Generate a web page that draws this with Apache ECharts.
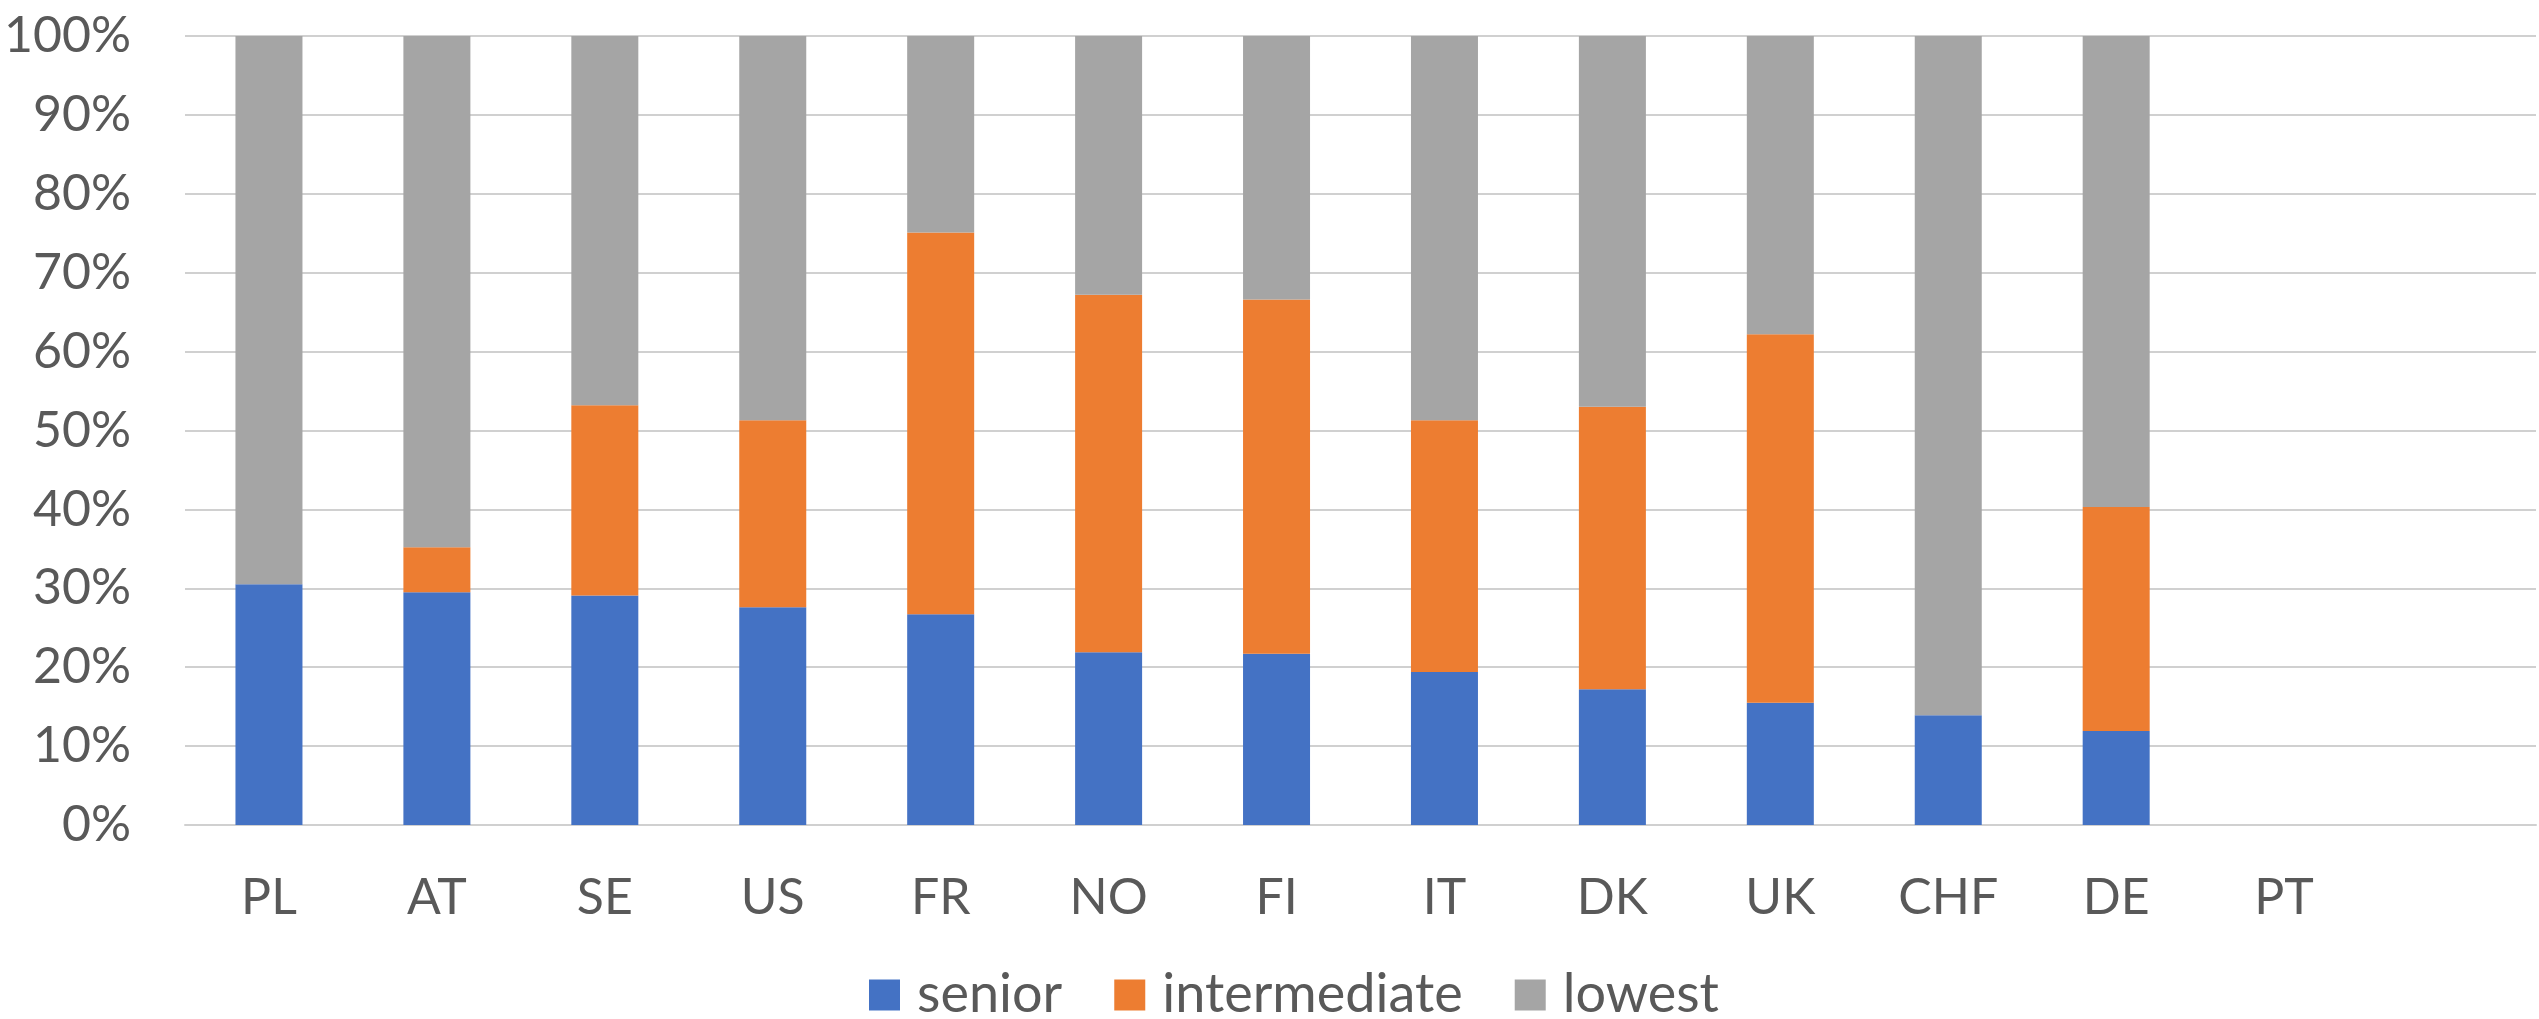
<!DOCTYPE html>
<html>
<head>
<meta charset="utf-8">
<script src="https://cdn.jsdelivr.net/npm/echarts@6/dist/echarts.min.js"></script>
<style>
html,body{margin:0;padding:0;background:#fff;}
#chart{width:2539px;height:1019px;}
</style>
</head>
<body>
<div id="chart"></div>
<script>
const categories = ['PL','AT','SE','US','FR','NO','FI','IT','DK','UK','CHF','DE','PT',''];
const senior       = [30.5, 29.5, 29.1, 27.6, 26.7, 21.9, 21.7, 19.4, 17.2, 15.5, 13.9, 11.9, null, null];
const intermediate = [0.0, 5.7, 24.1, 23.7, 48.4, 45.3, 44.9, 31.9, 35.8, 46.7, 0.0, 28.4, null, null];
const lowest       = [69.5, 64.8, 46.8, 48.7, 24.9, 32.8, 33.4, 48.7, 47.0, 37.8, 86.1, 59.7, null, null];
const seriesNames = ['senior','intermediate','lowest'];
const colors = ['#4472C4','#ED7D31','#A5A5A5'];

const FONT = 'Lato';
const chart = echarts.init(document.getElementById('chart'));
const mk = (name, data, color) => ({
  name, type: 'bar', stack: 'total', data, barWidth: 67,
  itemStyle: { color }, emphasis: { disabled: true }
});
chart.setOption({
  animation: false,
  textStyle: { fontFamily: FONT },
  color: colors,
  grid: { left: 185, right: 3, top: 36, bottom: 194, containLabel: false },
  legend: {
    data: seriesNames,
    left: 869, top: 968, padding: 0,
    itemWidth: 31, itemHeight: 31, itemGap: 52,
    icon: 'rect',
    textStyle: { fontFamily: FONT, fontSize: 54, lineHeight: 54, color: '#595959', padding: [0, 0, 0, 12] }
  },
  xAxis: {
    type: 'category', data: categories,
    axisLine: { lineStyle: { color: '#d0d0d0', width: 2 } },
    axisTick: { show: false },
    axisLabel: { fontFamily: FONT, fontSize: 50, color: '#595959', margin: 48, interval: 0 }
  },
  yAxis: {
    type: 'value', min: 0, max: 100, interval: 10,
    axisLine: { show: false }, axisTick: { show: false },
    splitLine: { lineStyle: { color: '#d0d0d0', width: 2 } },
    axisLabel: { fontFamily: FONT, fontSize: 50, color: '#595959', margin: 54, formatter: '{value}%' }
  },
  series: [
    mk(seriesNames[0], senior, colors[0]),
    mk(seriesNames[1], intermediate, colors[1]),
    mk(seriesNames[2], lowest, colors[2])
  ]
});
</script>
</body>
</html>
